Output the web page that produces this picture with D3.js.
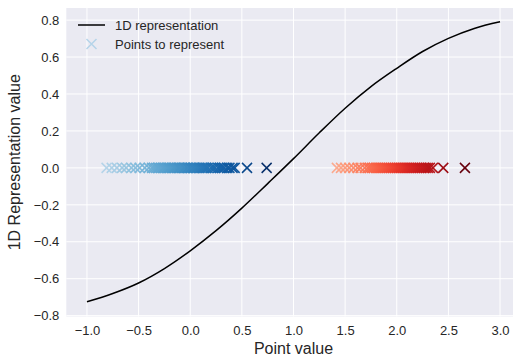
<!DOCTYPE html>
<html>
<head>
<meta charset="utf-8">
<script src="https://cdn.jsdelivr.net/npm/d3@7"></script>
<style>
body { margin: 0; background: #fff; }
text { font-family: "Liberation Sans", Arial, sans-serif; fill: #262626; }
</style>
</head>
<body>
<div id="chart"></div>
<script>
// curve
var curveX = [-1.0, -0.75, -0.5, -0.25, 0.0, 0.25, 0.5, 0.75, 1.0, 1.25, 1.5, 1.75, 2.0, 2.25, 2.5, 2.75, 3.0];
var curveY = [-0.725, -0.68, -0.623, -0.545, -0.449, -0.34, -0.218, -0.085, 0.05, 0.19, 0.323, 0.44, 0.539, 0.63, 0.701, 0.755, 0.791];

// points (all drawn at y = 0)
var bluePoints = [-0.81, -0.76, -0.71, -0.66, -0.62, -0.57, -0.53, -0.49, -0.44, -0.40, -0.37, -0.35, -0.33,
    -0.31, -0.30, -0.28, -0.26, -0.25, -0.23, -0.21, -0.20, -0.18, -0.16, -0.15, -0.13, -0.11, -0.10, -0.08,
    -0.06, -0.05, -0.03, -0.02, 0.00, 0.01, 0.03, 0.04, 0.06, 0.08, 0.10, 0.12, 0.13, 0.15, 0.17, 0.20, 0.22,
    0.24, 0.27, 0.29, 0.31, 0.33, 0.36, 0.38, 0.41, 0.43, 0.55, 0.74];
var redPoints = [1.42, 1.46, 1.50, 1.54, 1.58, 1.62, 1.65, 1.69, 1.72, 1.74, 1.76, 1.78, 1.80, 1.82, 1.84,
    1.86, 1.88, 1.90, 1.92, 1.94, 1.96, 1.98, 2.00, 2.02, 2.04, 2.06, 2.08, 2.10, 2.12, 2.14, 2.16, 2.18,
    2.20, 2.22, 2.24, 2.26, 2.28, 2.30, 2.32, 2.35, 2.45, 2.66];

var xTicks = [-1.0, -0.5, 0.0, 0.5, 1.0, 1.5, 2.0, 2.5, 3.0];
var yTicks = [-0.8, -0.6, -0.4, -0.2, 0.0, 0.2, 0.4, 0.6, 0.8];

var svgWidth = 513;
var svgHeight = 358;

var margin = { top: 8, left: 66.3 };
var width = 454.4;
var height = 308.5;

var svg = d3.select("#chart")
    .append("svg")
    .attr("width", svgWidth)
    .attr("height", svgHeight);

var chartGroup = svg.append("g")
    .attr("transform", `translate(${margin.left}, ${margin.top})`);

var x = d3.scaleLinear().domain([-1.2, 3.2]).range([0, width]);
var y = d3.scaleLinear().domain([-0.8045, 0.8655]).range([height, 0]);

chartGroup.append("rect")
    .attr("width", width)
    .attr("height", height)
    .attr("fill", "#EAEAF2");

// grid
chartGroup.selectAll(".vgrid")
    .data(xTicks)
    .enter()
    .append("line")
    .attr("x1", d => x(d)).attr("x2", d => x(d))
    .attr("y1", 0).attr("y2", height)
    .attr("stroke", "#fff").attr("stroke-width", 1);

chartGroup.selectAll(".hgrid")
    .data(yTicks)
    .enter()
    .append("line")
    .attr("y1", d => y(d)).attr("y2", d => y(d))
    .attr("x1", 0).attr("x2", width)
    .attr("stroke", "#fff").attr("stroke-width", 1);

// axes (labels only, no ticks or spines)
var xAxis = chartGroup.append("g")
    .attr("transform", `translate(0, ${height})`)
    .call(d3.axisBottom(x).tickValues(xTicks).tickFormat(d3.format(".1f")).tickSize(0).tickPadding(9));
var yAxis = chartGroup.append("g")
    .call(d3.axisLeft(y).tickValues(yTicks).tickFormat(d3.format(".1f")).tickSize(0).tickPadding(7));
[xAxis, yAxis].forEach(a => {
    a.select(".domain").remove();
    a.selectAll("text").attr("font-size", "13px").attr("font-family", null).attr("fill", "#262626");
});

// curve
var curveData = curveX.map((d, i) => [d, curveY[i]]);
chartGroup.append("path")
    .datum(curveData)
    .attr("fill", "none")
    .attr("stroke", "#000")
    .attr("stroke-width", 1.5)
    .attr("d", d3.line().x(d => x(d[0])).y(d => y(d[1])).curve(d3.curveMonotoneX));

// x markers
function drawX(g, cx, cy, color) {
    var r = 5;
    g.append("path")
        .attr("d", `M${cx - r},${cy - r}L${cx + r},${cy + r}M${cx - r},${cy + r}L${cx + r},${cy - r}`)
        .attr("stroke", color)
        .attr("stroke-width", 1.5)
        .attr("fill", "none");
}

var blueExt = d3.extent(bluePoints);
var blueColor = d3.scaleLinear().domain(blueExt).range([0.3, 1]);
var redExt = d3.extent(redPoints);
var redColor = d3.scaleLinear().domain(redExt).range([0.3, 1]);

var pointsGroup = chartGroup.append("g");
bluePoints.forEach(d => drawX(pointsGroup, x(d), y(0), d3.interpolateBlues(blueColor(d))));
redPoints.forEach(d => drawX(pointsGroup, x(d), y(0), d3.interpolateReds(redColor(d))));

// legend
var legend = svg.append("g");
legend.append("line")
    .attr("x1", 78).attr("x2", 105)
    .attr("y1", 25).attr("y2", 25)
    .attr("stroke", "#000").attr("stroke-width", 1.5);
legend.append("text")
    .attr("x", 115).attr("y", 29.5)
    .attr("font-size", "13px")
    .text("1D representation");
drawX(legend, 91.5, 44, d3.interpolateBlues(0.3));
legend.append("text")
    .attr("x", 115).attr("y", 48.5)
    .attr("font-size", "13px")
    .text("Points to represent");

// axis labels
svg.append("text")
    .attr("x", margin.left + width / 2)
    .attr("y", 354)
    .attr("text-anchor", "middle")
    .attr("font-size", "16px")
    .text("Point value");

svg.append("text")
    .attr("transform", `translate(20, ${margin.top + height / 2}) rotate(-90)`)
    .attr("text-anchor", "middle")
    .attr("font-size", "16px")
    .text("1D Representation value");
</script>
</body>
</html>
